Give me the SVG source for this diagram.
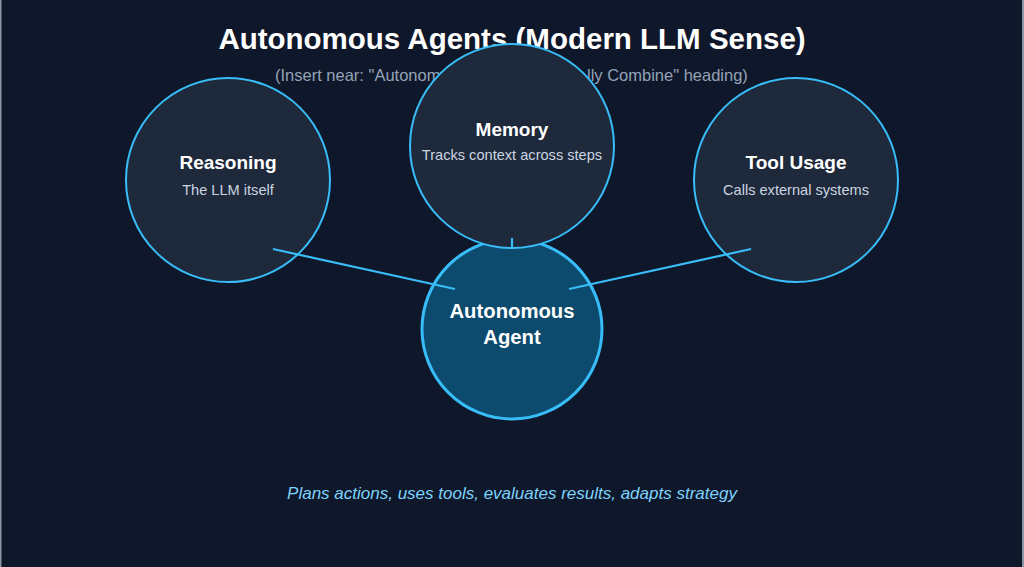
<svg xmlns="http://www.w3.org/2000/svg" width="1024" height="567" viewBox="0 0 1024 567">
  <style>
    text { font-family: "Liberation Sans", Arial, sans-serif; text-anchor: middle; }
    .title { font-size: 29.5px; font-weight: bold; fill: #ffffff; }
    .sub { font-size: 16.5px; fill: #94a3b8; text-anchor: start; }
    .node { fill: #1e293b; stroke: #38bdf8; stroke-width: 2; }
    .core { fill: #0c4a6e; stroke: #38bdf8; stroke-width: 3; }
    .label { font-size: 19px; font-weight: bold; fill: #ffffff; }
    .desc { font-size: 14.6px; fill: #cbd5e1; }
    .corelabel { font-size: 20.3px; font-weight: bold; fill: #ffffff; }
    .edge { stroke: #38bdf8; stroke-width: 2.2; fill: none; }
    .foot { font-size: 17px; font-style: italic; fill: #7dd3fc; }
  </style>
  <rect x="0" y="0" width="1024" height="567" fill="#8b95a6"/>
  <rect x="1.5" y="0" width="1020.5" height="567" fill="#0f172a"/>
  <text class="title" x="512" y="49">Autonomous Agents (Modern LLM Sense)</text>
  <text class="sub" x="275" y="81">(Insert near: "Autonomous Agents Actua<tspan x="587">lly Combine" heading)</tspan></text>

  <g id="node-reasoning">
    <circle class="node" cx="228" cy="180" r="102"/>
    <text class="label" x="228" y="169">Reasoning</text>
    <text class="desc" x="228" y="195">The LLM itself</text>
  </g>
  <g id="node-tool-usage">
    <circle class="node" cx="796" cy="180" r="102"/>
    <text class="label" x="796" y="169">Tool Usage</text>
    <text class="desc" x="796" y="195">Calls external systems</text>
  </g>
  <g id="node-agent">
    <circle class="core" cx="512" cy="329" r="90"/>
    <text class="corelabel" x="512" y="318">Autonomous</text>
    <text class="corelabel" x="512" y="344">Agent</text>
  </g>
  <g id="node-memory">
    <circle class="node" cx="512" cy="146" r="102"/>
    <text class="label" x="512" y="136">Memory</text>
    <text class="desc" x="512" y="160">Tracks context across steps</text>
  </g>

  <g id="connectors">
    <line class="edge" x1="273" y1="249" x2="455" y2="289"/>
    <line class="edge" x1="751" y1="249" x2="569" y2="289"/>
    <line class="edge" x1="512" y1="238" x2="512" y2="248"/>
  </g>

  <text class="foot" x="512" y="499">Plans actions, uses tools, evaluates results, adapts strategy</text>
</svg>
